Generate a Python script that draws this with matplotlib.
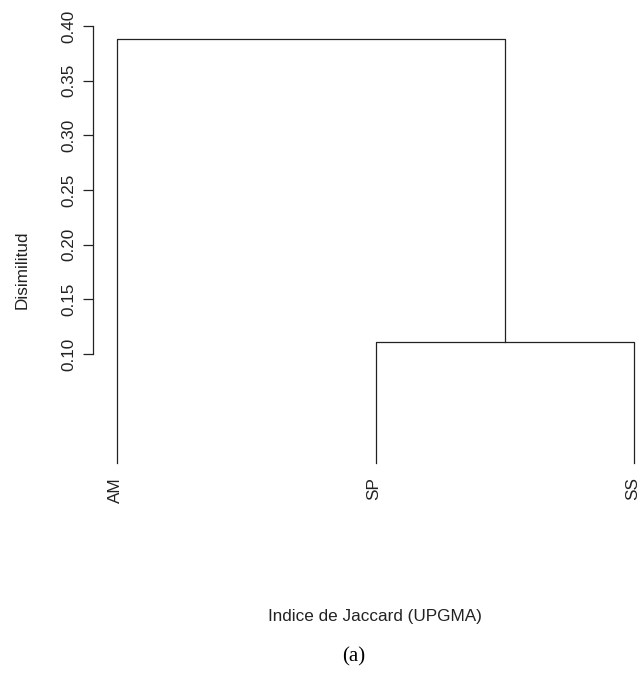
import matplotlib
matplotlib.use("Agg")
import matplotlib.pyplot as plt
from matplotlib.transforms import blended_transform_factory

# Data: leaves and merge heights (UPGMA, Jaccard)
leaves = ["AM", "SP", "SS"]
merge_low = 0.111   # SP + SS
merge_high = 0.388  # AM + (SP,SS)
yticks = [0.10, 0.15, 0.20, 0.25, 0.30, 0.35, 0.40]

plt.rcParams['font.family'] = ['Liberation Sans', 'DejaVu Sans']
W, H = 641, 673
fig = plt.figure(figsize=(W / 100, H / 100), dpi=100)

FS = 12.3
tc = '#222222'

# axes placement in pixels
left_px, right_px, top_px, bot_px = 93, 641, 20, 470
ax = fig.add_axes([left_px / W, 1 - bot_px / H, (right_px - left_px) / W, (bot_px - top_px) / H])

xs = [1, 2, 3]
ppu_x = (634 - 117) / 2
ax.set_xlim(1 - (117 - left_px) / ppu_x, 1 + (right_px - 117) / ppu_x)
ppu_y = (354 - 26) / 0.30
ax.set_ylim(0.10 - (bot_px - 354) / ppu_y, 0.40 + (26 - top_px) / ppu_y)

lc = '#222222'
lw = 0.9
x_sp, x_ss = xs[1], xs[2]
ax.plot([x_sp, x_sp, x_ss, x_ss], [0, merge_low, merge_low, 0], color=lc, lw=lw)
x_mid = (x_sp + x_ss) / 2
ax.plot([xs[0], xs[0], x_mid, x_mid], [0, merge_high, merge_high, merge_low], color=lc, lw=lw)

for s in ['top', 'right', 'bottom']:
    ax.spines[s].set_visible(False)
ax.spines['left'].set_bounds(0.10, 0.40)
ax.spines['left'].set_color(lc)
ax.spines['left'].set_linewidth(lw)
ax.set_yticks(yticks)
ax.set_yticklabels([f"{v:.2f}" for v in yticks], rotation=90, va='center', fontsize=FS, color=tc)
ax.tick_params(axis='y', length=7.2, width=lw, color=lc, pad=5)
ax.set_xticks([])

trans = blended_transform_factory(ax.transData, fig.transFigure)
for x, lab in zip(xs, leaves):
    ax.text(x - 0.006, 1 - 477 / H, lab, rotation=90, ha='center', va='top',
            fontsize=FS, color=tc, transform=trans)

fig.text(22 / W, 1 - 270 / H, "Disimilitud", rotation=90, ha='center', va='center',
         fontsize=FS, color=tc)
fig.text(375 / W, 1 - 616 / H, "Indice de Jaccard (UPGMA)", ha='center', va='center',
         fontsize=FS, color=tc)
fig.text(354 / W, 1 - 657 / H, "(a)", ha='center', va='center',
         fontsize=15, color='black', family=['Liberation Serif', 'DejaVu Serif'])

fig.savefig("out.png", dpi=100)
